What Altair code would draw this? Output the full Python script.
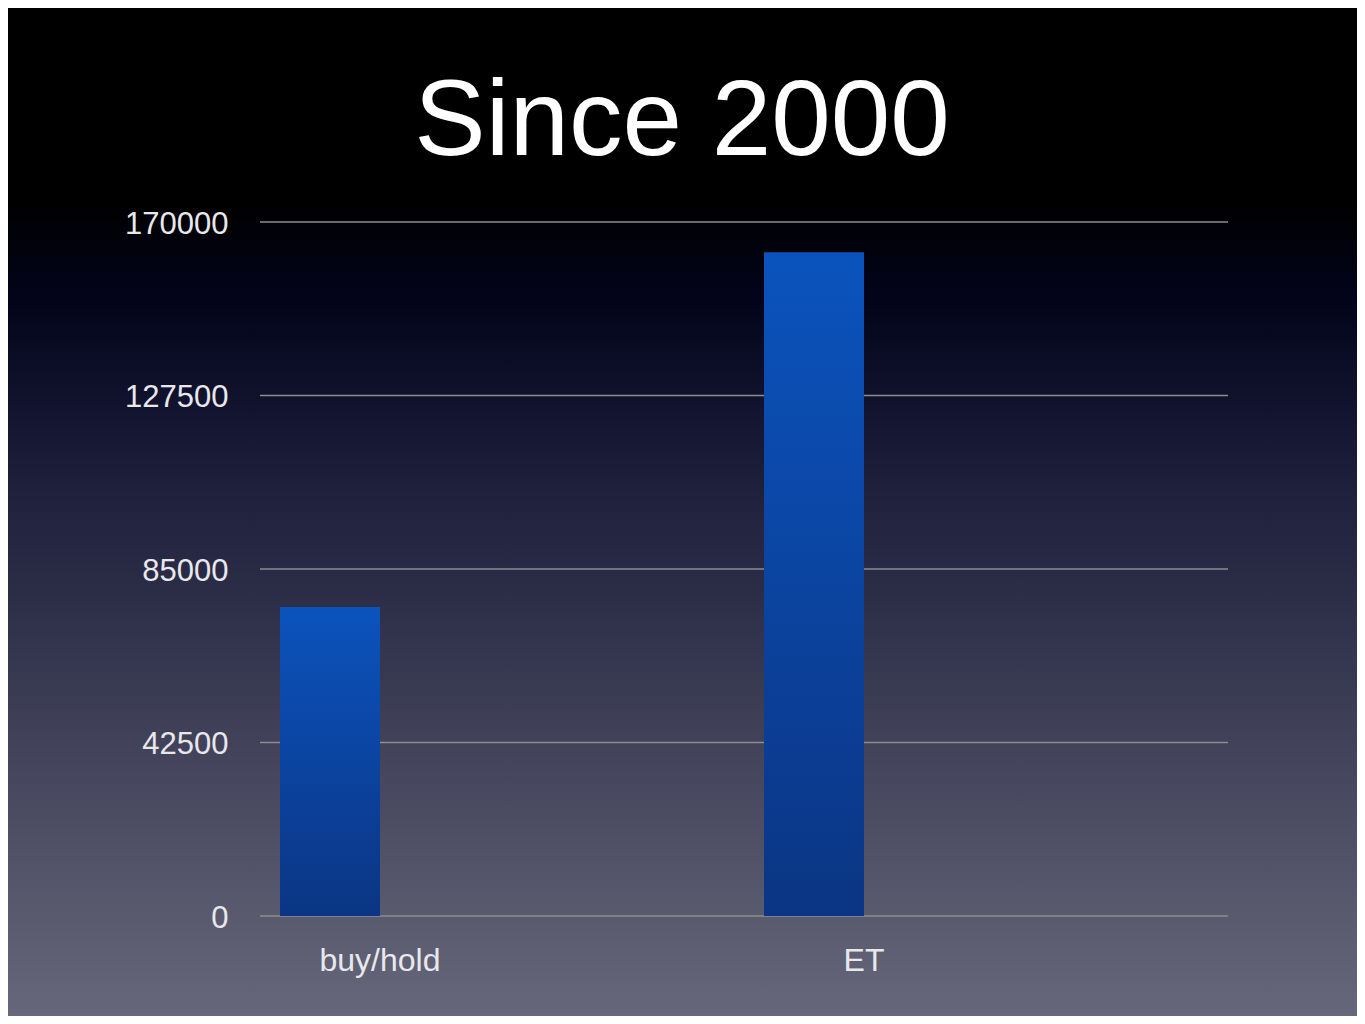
import altair as alt
import pandas as pd

# ---- data ----
categories = ["buy/hold", "ET"]
values = [75700, 162600]
y_ticks = [0, 42500, 85000, 127500, 170000]
title_text = "Since 2000"

W, H = 968, 694
PAD = {"left": 252, "top": 214, "right": 129, "bottom": 100}
FONT = "Liberation Sans"

bars_df = pd.DataFrame({"cat": categories, "val": values})
ticks_df = pd.DataFrame({"tick": y_ticks})

x_scale = alt.Scale(domain=categories, paddingInner=0, paddingOuter=0)
y_scale = alt.Scale(domain=[0, 170000], nice=False, zero=True)

y_axis = alt.Axis(
    values=y_ticks, format="d", domain=False, ticks=False, grid=False,
    labelFontSize=31, labelFont=FONT, labelColor="#e8e8ec",
    labelPadding=32, labelOffset=2, zindex=1,
)

bg_gradient = alt.LinearGradient(
    gradient="linear", x1=0, x2=0, y1=0, y2=1,
    stops=[
        alt.GradientStop(color="#000000", offset=0),
        alt.GradientStop(color="#000000", offset=0.19),
        alt.GradientStop(color="#03041a", offset=0.29),
        alt.GradientStop(color="#11132e", offset=0.39),
        alt.GradientStop(color="#20223e", offset=0.49),
        alt.GradientStop(color="#2d2e48", offset=0.59),
        alt.GradientStop(color="#3c3d55", offset=0.69),
        alt.GradientStop(color="#4a4b62", offset=0.79),
        alt.GradientStop(color="#57586c", offset=0.885),
        alt.GradientStop(color="#66677a", offset=1),
    ],
)

bar_gradient = alt.LinearGradient(
    gradient="linear", x1=0, x2=0, y1=0, y2=1,
    stops=[
        alt.GradientStop(color="#0b53bd", offset=0),
        alt.GradientStop(color="#0b3584", offset=1),
    ],
)

background = alt.Chart(alt.Data(values=[{"a": 1}])).mark_rect(
    color=bg_gradient
).encode(
    x=alt.value(-PAD["left"]),
    x2=alt.value(W + PAD["right"]),
    y=alt.value(-PAD["top"]),
    y2=alt.value(H + PAD["bottom"]),
)

grid = alt.Chart(ticks_df).mark_rule(color="#8d8d8f", strokeWidth=1.5).encode(
    y=alt.Y("tick:Q", scale=y_scale, title=None, axis=y_axis),
    x=alt.value(0),
    x2=alt.value(W),
)

bars = alt.Chart(bars_df).mark_bar(
    color=bar_gradient, width=100, xOffset=-172
).encode(
    x=alt.X(
        "cat:N",
        scale=x_scale,
        sort=categories,
        title=None,
        axis=alt.Axis(
            domain=False, ticks=False, labelAngle=0, labelFontSize=32,
            labelFont=FONT, labelColor="#e8e8ec", labelOffset=-122,
            labelBaseline="alphabetic", labelPadding=54, zindex=1,
        ),
    ),
    y=alt.Y("val:Q", scale=y_scale, title=None, axis=y_axis),
)

title = alt.Chart(alt.Data(values=[{"t": title_text}])).mark_text(
    font=FONT, fontSize=107, color="#ffffff", align="center",
    baseline="alphabetic",
).encode(
    text=alt.Text("t:N"),
    x=alt.value(682 - 260),
    y=alt.value(155 - 222),
)

chart = alt.layer(background, grid, bars, title).properties(
    width=W, height=H,
    autosize=alt.AutoSizeParams(type="none"),
    padding=PAD,
).configure(background="#000000").configure_view(stroke=None)

chart.save("out.html", embed_options={"renderer": "svg", "actions": False})
